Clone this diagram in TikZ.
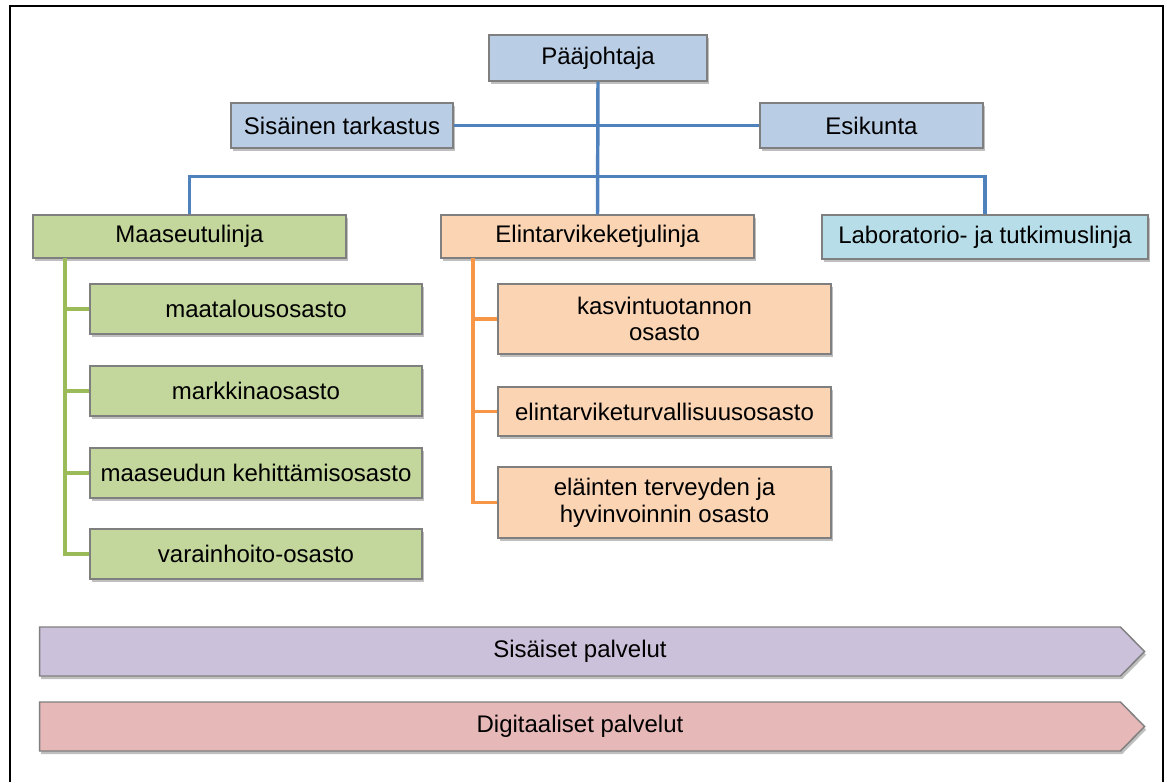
\documentclass[tikz,border=0pt]{standalone}
\usepackage{fontspec}
\setmainfont{Liberation Sans}
\usetikzlibrary{shadows,shapes.symbols}

\definecolor{topblue}{HTML}{B9CDE5}
\definecolor{linegreen}{HTML}{C3D69B}
\definecolor{lineorange}{HTML}{FBD4B4}
\definecolor{labblue}{HTML}{B7DEE8}
\definecolor{svcpurple}{HTML}{CCC1DA}
\definecolor{svcpink}{HTML}{E6B9B8}
\definecolor{wireblue}{HTML}{4F81BD}
\definecolor{wiregreen}{HTML}{9BBB59}
\definecolor{wireorange}{HTML}{F79646}
\definecolor{edgegrey}{HTML}{7F7F7F}

\tikzset{
  unitbox/.style={draw=edgegrey, line width=1.1pt, rectangle, inner sep=0pt,
    align=center, font=\fontsize{18}{20}\selectfont,
    drop shadow={shadow xshift=1.2pt, shadow yshift=-2.4pt, opacity=0.25, fill=black}},
  wh/.style 2 args={minimum width=#1*0.75pt, minimum height=#2*0.75pt},
  wire/.style={line width=2.6pt},
  svc/.style={draw=edgegrey, line width=1.1pt, signal, signal to=east, signal from=nowhere,
    signal pointer angle=91, inner sep=0pt, font=\fontsize{18}{20}\selectfont,
    drop shadow={shadow xshift=1.2pt, shadow yshift=-2.4pt, opacity=0.25, fill=black}}
}

\begin{document}
\begin{tikzpicture}[x=0.75pt, y=-0.75pt]
  \useasboundingbox (0,0) rectangle (1167,782);

  % frame, open at the bottom
  \draw[line width=1.6pt] (10,782) -- (10,6) -- (1163,6) -- (1163,782);

  % top management
  \node[unitbox, fill=topblue, wh={218}{46}] (paa) at (598,58) {Pääjohtaja};
  \node[unitbox, fill=topblue, wh={222}{45}] (sis) at (342,125.5) {Sisäinen tarkastus};
  \node[unitbox, fill=topblue, wh={223}{45}] (esi) at (871.5,125.5) {Esikunta};

  % lines
  \node[unitbox, fill=linegreen, wh={313}{43}] (maa) at (189.5,236.5) {Maaseutulinja};
  \node[unitbox, fill=lineorange, wh={313}{43}] (elin) at (597.5,236.5) {Elintarvikeketjulinja};
  \node[unitbox, fill=labblue, wh={326}{44}] (lab) at (985,237) {Laboratorio- ja tutkimuslinja};

  % rural departments
  \node[unitbox, fill=linegreen, wh={332}{50}] (mt) at (256,309) {maatalousosasto};
  \node[unitbox, fill=linegreen, wh={332}{50}] (mk) at (256,391) {markkinaosasto};
  \node[unitbox, fill=linegreen, wh={332}{50}] (mr) at (256,473) {maaseudun kehittämisosasto};
  \node[unitbox, fill=linegreen, wh={332}{50}] (vh) at (256,554) {varainhoito-osasto};

  % food chain departments
  \node[unitbox, fill=lineorange, wh={333}{70}] (kt) at (664.5,319) {kasvintuotannon\\osasto};
  \node[unitbox, fill=lineorange, wh={333}{49}] (et) at (664.5,411.5) {elintarviketurvallisuusosasto};
  \node[unitbox, fill=lineorange, wh={333}{71}] (el) at (664.5,502.5) {eläinten terveyden ja\\hyvinvoinnin osasto};

  % services
  \node[svc, fill=svcpurple, wh={1105}{49}] (sp) at (580,651.5) {Sisäiset palvelut};
  \node[svc, fill=svcpink, wh={1105}{49}] (dp) at (580,726.5) {Digitaaliset palvelut};

  % connectors
  \draw[wire, wireblue] (sis.east) -- (esi.west);
  \draw[wire, wireblue] (paa.south) -- (elin.north);
  \draw[wire, wireblue] (maa.north) -- ++(0,-38) -| (lab.north);

  \coordinate (gtop) at (65,258);
  \draw[wire, wiregreen] (gtop) |- (vh.west);
  \foreach \n in {mt,mk,mr} \draw[wire, wiregreen] (gtop |- \n.west) -- (\n.west);

  \coordinate (otop) at (473,258);
  \draw[wire, wireorange] (otop) |- (el.west);
  \foreach \n in {kt,et} \draw[wire, wireorange] (otop |- \n.west) -- (\n.west);
\end{tikzpicture}
\end{document}
